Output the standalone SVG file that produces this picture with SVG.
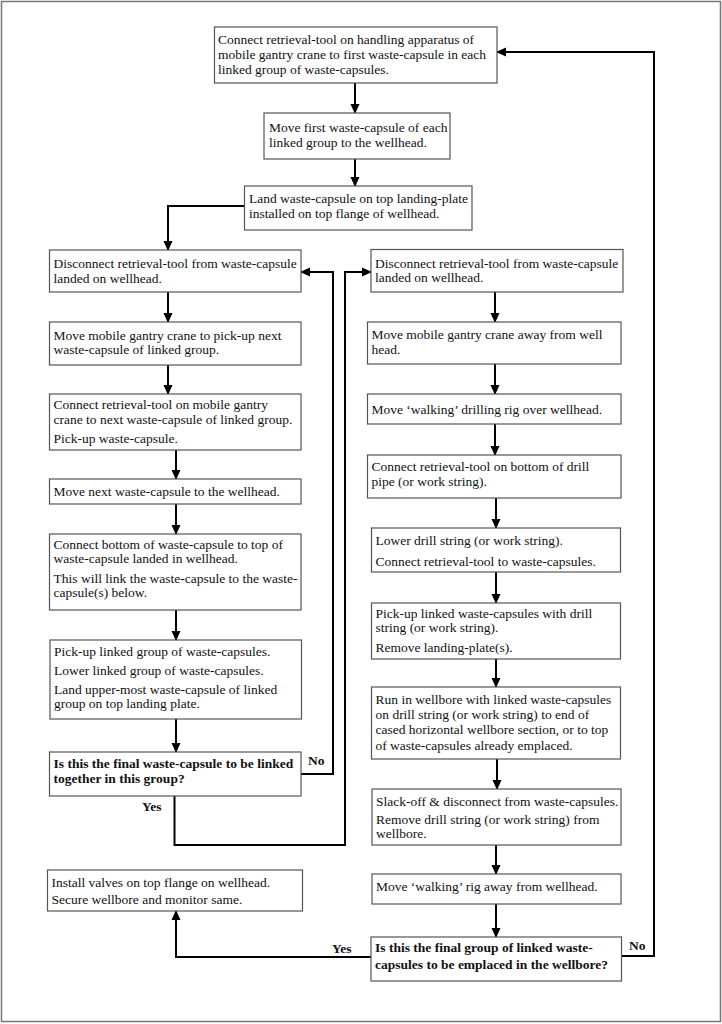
<svg xmlns="http://www.w3.org/2000/svg" width="722" height="1024" viewBox="0 0 722 1024">
<style>
.box{fill:#fff;stroke:#555;stroke-width:1.2}
.t{font-family:"Liberation Serif","Times New Roman",serif;font-size:13.5px;fill:#111}
.b{font-weight:bold}
.c{fill:none;stroke:#000;stroke-width:2}
</style>
<defs>
<marker id="ah" markerUnits="userSpaceOnUse" markerWidth="10" markerHeight="10" viewBox="0 0 10 10" refX="9" refY="5" orient="auto">
<path d="M0,0.5 L10,5 L0,9.5 z" fill="#000"/>
</marker>
</defs>
<rect x="1.5" y="1.5" width="719" height="1020" fill="#fff" stroke="#777" stroke-width="1.5"/>

<g id="connectors">
<path class="c" marker-end="url(#ah)" d="M355,83 V113"/>
<path class="c" marker-end="url(#ah)" d="M355,159 V186"/>
<path class="c" marker-end="url(#ah)" d="M244.5,206 H168 V250"/>
<path class="c" marker-end="url(#ah)" d="M168,292 V322"/>
<path class="c" marker-end="url(#ah)" d="M168,365 V394"/>
<path class="c" marker-end="url(#ah)" d="M176,450 V479"/>
<path class="c" marker-end="url(#ah)" d="M176,504 V534"/>
<path class="c" marker-end="url(#ah)" d="M176,610 V640"/>
<path class="c" marker-end="url(#ah)" d="M176,719 V752"/>
<path class="c" marker-end="url(#ah)" d="M301,774 H333 V272 H301"/>
<path class="c" marker-end="url(#ah)" d="M174.5,796 V845 H345 V272 H371"/>
<path class="c" marker-end="url(#ah)" d="M495,292 V322"/>
<path class="c" marker-end="url(#ah)" d="M495,364 V394"/>
<path class="c" marker-end="url(#ah)" d="M495,424 V455"/>
<path class="c" marker-end="url(#ah)" d="M496,498 V528"/>
<path class="c" marker-end="url(#ah)" d="M496,572 V603"/>
<path class="c" marker-end="url(#ah)" d="M496,659 V687"/>
<path class="c" marker-end="url(#ah)" d="M497,759 V789"/>
<path class="c" marker-end="url(#ah)" d="M496,845 V874"/>
<path class="c" marker-end="url(#ah)" d="M496,904 V937"/>
<path class="c" marker-end="url(#ah)" d="M371,957 H176 V911"/>
<path class="c" marker-end="url(#ah)" d="M621,956 H654 V52 H497"/>
<text class="t b" x="308" y="765">No</text>
<text class="t b" x="142" y="811">Yes</text>
<text class="t b" x="332" y="952.5">Yes</text>
<text class="t b" x="629" y="950">No</text>
</g>

<g id="b1">
<rect class="box" x="214.5" y="27" width="282.5" height="56"/>
<text class="t" x="218" y="44">Connect retrieval-tool on handling apparatus of</text>
<text class="t" x="218" y="59">mobile gantry crane to first waste-capsule in each</text>
<text class="t" x="218" y="74">linked group of waste-capsules.</text>
</g>
<g id="b2">
<rect class="box" x="264" y="113" width="186" height="46"/>
<text class="t" x="269" y="132">Move first waste-capsule of each</text>
<text class="t" x="269" y="147">linked group to the wellhead.</text>
</g>
<g id="b3">
<rect class="box" x="244.5" y="186" width="227.5" height="44"/>
<text class="t" x="249" y="203">Land waste-capsule on top landing-plate</text>
<text class="t" x="249" y="218">installed on top flange of wellhead.</text>
</g>

<g id="l1">
<rect class="box" x="49.5" y="250" width="251.5" height="42"/>
<text class="t" x="53.5" y="268">Disconnect retrieval-tool from waste-capsule</text>
<text class="t" x="53.5" y="282.5">landed on wellhead.</text>
</g>
<g id="l2">
<rect class="box" x="49.5" y="322" width="251.5" height="43"/>
<text class="t" x="53.5" y="340">Move mobile gantry crane to pick-up next</text>
<text class="t" x="53.5" y="354">waste-capsule of linked group.</text>
</g>
<g id="l3">
<rect class="box" x="49.5" y="394" width="251.5" height="56"/>
<text class="t" x="53.5" y="409">Connect retrieval-tool on mobile gantry</text>
<text class="t" x="53.5" y="424">crane to next waste-capsule of linked group.</text>
<text class="t" x="53.5" y="443">Pick-up waste-capsule.</text>
</g>
<g id="l4">
<rect class="box" x="49.5" y="479" width="251.5" height="25"/>
<text class="t" x="53.5" y="496">Move next waste-capsule to the wellhead.</text>
</g>
<g id="l5">
<rect class="box" x="49.5" y="534" width="251.5" height="76"/>
<text class="t" x="53.5" y="549">Connect bottom of waste-capsule to top of</text>
<text class="t" x="53.5" y="563">waste-capsule landed in wellhead.</text>
<text class="t" x="53.5" y="583">This will link the waste-capsule to the waste-</text>
<text class="t" x="53.5" y="597">capsule(s) below.</text>
</g>
<g id="l6">
<rect class="box" x="50" y="640" width="251.5" height="79"/>
<text class="t" x="54" y="656">Pick-up linked group of waste-capsules.</text>
<text class="t" x="54" y="675">Lower linked group of waste-capsules.</text>
<text class="t" x="54" y="694">Land upper-most waste-capsule of linked</text>
<text class="t" x="54" y="708">group on top landing plate.</text>
</g>
<g id="l7">
<rect class="box" x="49.5" y="752" width="251.5" height="44"/>
<text class="t b" x="53.5" y="768">Is this the final waste-capsule to be linked</text>
<text class="t b" x="53.5" y="783">together in this group?</text>
</g>

<g id="r1">
<rect class="box" x="371" y="249.5" width="252" height="42.5"/>
<text class="t" x="375" y="267.5">Disconnect retrieval-tool from waste-capsule</text>
<text class="t" x="375" y="281.5">landed on wellhead.</text>
</g>
<g id="r2">
<rect class="box" x="367.5" y="322" width="253.5" height="42"/>
<text class="t" x="371.5" y="339">Move mobile gantry crane away from well</text>
<text class="t" x="371.5" y="354">head.</text>
</g>
<g id="r3">
<rect class="box" x="367.5" y="394" width="253.5" height="30"/>
<text class="t" x="371.5" y="413.5">Move ‘walking’ drilling rig over wellhead.</text>
</g>
<g id="r4">
<rect class="box" x="367.5" y="455" width="253.5" height="43"/>
<text class="t" x="371.5" y="471">Connect retrieval-tool on bottom of drill</text>
<text class="t" x="371.5" y="486">pipe (or work string).</text>
</g>
<g id="r5">
<rect class="box" x="371.5" y="528" width="249" height="44"/>
<text class="t" x="375.5" y="545">Lower drill string (or work string).</text>
<text class="t" x="375.5" y="566">Connect retrieval-tool to waste-capsules.</text>
</g>
<g id="r6">
<rect class="box" x="371.5" y="603" width="249" height="56"/>
<text class="t" x="375.5" y="618">Pick-up linked waste-capsules with drill</text>
<text class="t" x="375.5" y="632">string (or work string).</text>
<text class="t" x="375.5" y="652">Remove landing-plate(s).</text>
</g>
<g id="r7">
<rect class="box" x="371.5" y="687" width="249" height="72"/>
<text class="t" x="375.5" y="704">Run in wellbore with linked waste-capsules</text>
<text class="t" x="375.5" y="719">on drill string (or work string) to end of</text>
<text class="t" x="375.5" y="734">cased horizontal wellbore section, or to top</text>
<text class="t" x="375.5" y="750">of waste-capsules already emplaced.</text>
</g>
<g id="r8">
<rect class="box" x="372" y="789" width="249" height="56"/>
<text class="t" x="376" y="806">Slack-off &amp; disconnect from waste-capsules.</text>
<text class="t" x="376" y="824">Remove drill string (or work string) from</text>
<text class="t" x="376" y="838">wellbore.</text>
</g>
<g id="r9">
<rect class="box" x="372" y="874" width="249" height="30"/>
<text class="t" x="376" y="891">Move ‘walking’ rig away from wellhead.</text>
</g>
<g id="r10">
<rect class="box" x="371" y="937" width="250.5" height="44"/>
<text class="t b" x="375" y="952">Is this the final group of linked waste-</text>
<text class="t b" x="375" y="969">capsules to be emplaced in the wellbore?</text>
</g>
<g id="final">
<rect class="box" x="47.5" y="870" width="255" height="41"/>
<text class="t" x="51.5" y="887">Install valves on top flange on wellhead.</text>
<text class="t" x="51.5" y="904">Secure wellbore and monitor same.</text>
</g>
</svg>
